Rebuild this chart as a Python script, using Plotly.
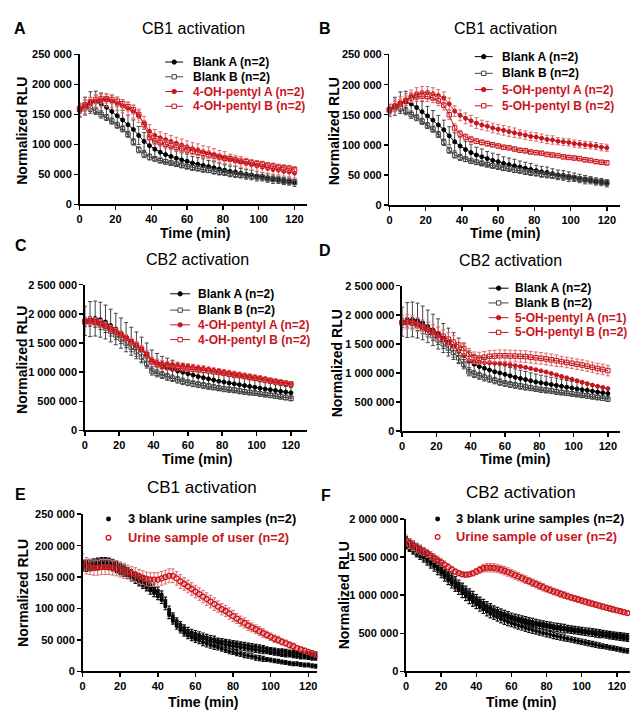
import plotly.graph_objects as go

W, H = 630, 717
RED = '#c8161d'
RED_ERR = '#e06a6a'
BLACK = '#000000'
GREY = '#444444'
FONT = 'Liberation Sans, Arial, sans-serif'

# ---------------- DATA (values in thousands of RLU) ----------------
T_AD = list(range(0, 121, 3))     # minutes, panels A-D
T_E = list(range(0, 125, 2))      # minutes, panel E
T_F = list(range(0, 127, 2))      # minutes, panel F

x_ticks = [0, 20, 40, 60, 80, 100, 120]
x_ticktext = ['0', '20', '40', '60', '80', '100', '120']
cb1_ticks = [0, 50000, 100000, 150000, 200000, 250000]
cb1_ticktext = ['0', '50 000', '100 000', '150 000', '200 000', '250 000']
cb2_ticks = [0, 500000, 1000000, 1500000, 2000000, 2500000]
cb2_ticktext = ['0', '500 000', '1 000 000', '1 500 000', '2 000 000', '2 500 000']
cb2f_ticks = [0, 500000, 1000000, 1500000, 2000000]
cb2f_ticktext = ['0', '500 000', '1 000 000', '1 500 000', '2 000 000']

# CB1 blanks (panels A, B)
cb1_blankA = [157, 164, 170, 171, 168, 162, 155, 148, 141, 133, 125, 115, 105, 98, 92, 87, 83, 80, 77, 74,
              72, 69, 67, 65, 63, 61, 59, 57, 55, 54, 52, 50, 49, 47, 46, 44, 42, 41, 39, 38, 36]
cb1_blankA_err = [10, 15, 18, 18, 18, 17, 17, 16, 16, 16, 16, 15, 15, 15, 14, 14, 13, 13, 12, 12,
                  12, 11, 11, 11, 10, 10, 10, 9, 9, 9, 8, 8, 8, 8, 7, 7, 7, 6, 6, 6, 6]
cb1_blankB = [158, 162, 161, 156, 150, 145, 139, 132, 126, 117, 104, 91, 83, 79, 76, 73, 71, 69, 67, 65,
              63, 61, 60, 58, 57, 55, 54, 53, 51, 50, 49, 48, 47, 46, 45, 43, 42, 41, 39, 38, 37]
cb1_blankB_err = [6, 6, 6, 6, 6, 5, 5, 5, 5, 5, 5, 5, 5, 5, 4, 4, 4, 4, 4, 4,
                  4, 4, 4, 4, 4, 4, 4, 4, 4, 4, 4, 4, 4, 4, 4, 4, 4, 4, 4, 4, 4]
# Panel A
oh4_cb1_A = [157, 163, 168, 172, 174, 174, 172, 168, 164, 160, 155, 148, 136, 122, 115, 111, 108, 105, 102, 99,
             96, 93, 91, 88, 86, 83, 80, 78, 75, 73, 71, 68, 66, 64, 62, 60, 58, 57, 55, 54, 52]
oh4_cb1_A_err = [12, 12, 11, 11, 11, 11, 11, 11, 11, 11, 11, 11, 11, 11, 10, 10, 10, 10, 10, 10,
                 10, 10, 10, 10, 10, 10, 10, 10, 9, 9, 9, 9, 9, 9, 9, 9, 8, 8, 8, 8, 8]
oh4_cb1_B = [160, 166, 171, 175, 176, 176, 175, 172, 168, 163, 158, 150, 133, 112, 106, 103, 100, 98, 95, 93,
             91, 89, 87, 85, 83, 81, 79, 77, 76, 74, 72, 71, 69, 68, 67, 65, 64, 62, 61, 60, 58]
oh4_cb1_B_err = [8, 8, 7, 7, 7, 7, 7, 7, 7, 7, 7, 7, 7, 6, 6, 6, 6, 6, 6, 6,
                 6, 5, 5, 5, 5, 5, 5, 5, 5, 5, 5, 5, 5, 5, 5, 5, 5, 5, 5, 5, 5]
# Panel B
oh5_cb1_A = [158, 165, 170, 175, 181, 185, 187, 187, 185, 182, 178, 168, 156, 149, 144, 140, 136, 133, 131, 128,
             126, 124, 122, 120, 118, 116, 114, 113, 111, 109, 108, 106, 105, 104, 102, 101, 100, 99, 98, 96, 95]
oh5_cb1_A_err = [10, 10, 10, 10, 10, 10, 10, 10, 10, 10, 10, 10, 9, 9, 9, 9, 9, 8, 8, 8,
                 8, 8, 8, 8, 7, 7, 7, 7, 7, 7, 7, 6, 6, 6, 6, 6, 6, 6, 6, 6, 6]
oh5_cb1_B = [158, 164, 168, 173, 178, 180, 181, 180, 178, 173, 166, 150, 128, 118, 113, 109, 106, 104, 102, 100,
             98, 96, 95, 93, 91, 90, 88, 87, 86, 84, 83, 82, 80, 79, 78, 77, 75, 74, 72, 71, 70]
oh5_cb1_B_err = [8, 8, 8, 8, 8, 8, 8, 8, 8, 8, 8, 8, 7, 6, 5, 5, 4, 4, 4, 3,
                 3, 3, 3, 3, 3, 3, 3, 3, 3, 3, 3, 3, 3, 3, 3, 3, 3, 3, 3, 3, 3]

# CB2 blanks (panels C, D)
cb2_blankA = [1880, 1910, 1920, 1900, 1860, 1800, 1740, 1670, 1600, 1530, 1460, 1380, 1300, 1200, 1150, 1110,
              1080, 1050, 1020, 1000, 975, 950, 925, 905, 885, 865, 845, 830, 815, 800, 785, 770, 755, 740,
              725, 710, 700, 685, 670, 660, 645]
cb2_blankA_err = [250, 300, 300, 300, 290, 280, 270, 260, 250, 240, 230, 220, 200, 180, 170, 160, 160, 155,
                  150, 150, 150, 145, 145, 140, 140, 135, 135, 130, 130, 125, 125, 120, 115, 115, 110, 110,
                  105, 100, 100, 95, 90]
cb2_blankB = [1860, 1870, 1850, 1810, 1760, 1700, 1640, 1570, 1500, 1430, 1350, 1260, 1150, 1020, 980, 950,
              920, 895, 868, 842, 818, 800, 785, 770, 755, 740, 725, 710, 700, 690, 675, 662, 650, 640, 628,
              615, 603, 590, 578, 565, 550]
cb2_blankB_err = [80, 80, 80, 80, 80, 80, 80, 80, 80, 80, 80, 80, 80, 70, 60, 60, 60, 55, 55, 55,
                  50, 50, 50, 50, 50, 45, 45, 45, 45, 45, 45, 40, 40, 40, 40, 40, 40, 40, 40, 40, 40]
# Panel C
oh4_cb2_A = [1870, 1880, 1870, 1840, 1800, 1750, 1700, 1650, 1590, 1530, 1470, 1400, 1320, 1210, 1170, 1150,
             1140, 1130, 1120, 1110, 1100, 1090, 1075, 1065, 1050, 1035, 1020, 1005, 990, 975, 960, 945, 930,
             915, 900, 885, 865, 850, 835, 815, 800]
oh4_cb2_A_err = [60, 60, 60, 60, 60, 55, 55, 55, 55, 55, 55, 55, 55, 50, 50, 50, 45, 45, 45, 45,
                 45, 45, 45, 45, 40, 40, 40, 40, 40, 40, 40, 40, 40, 40, 40, 35, 35, 35, 35, 35, 35]
oh4_cb2_B = [1870, 1880, 1860, 1830, 1790, 1740, 1690, 1640, 1580, 1520, 1460, 1390, 1300, 1180, 1130, 1100,
             1080, 1070, 1065, 1060, 1055, 1050, 1040, 1030, 1020, 1005, 995, 980, 965, 950, 940, 925, 910,
             895, 880, 865, 850, 835, 820, 810, 795]
oh4_cb2_B_err = [55, 55, 55, 55, 55, 50, 50, 50, 50, 50, 50, 50, 50, 45, 45, 45, 40, 40, 40, 40,
                 40, 40, 40, 40, 35, 35, 35, 35, 35, 35, 35, 35, 35, 35, 35, 30, 30, 30, 30, 30, 30]
# Panel D
oh5_cb2_A = [1870, 1880, 1870, 1840, 1790, 1740, 1690, 1630, 1570, 1510, 1450, 1380, 1300, 1210, 1190, 1180,
             1175, 1170, 1165, 1160, 1150, 1140, 1125, 1110, 1095, 1075, 1055, 1035, 1015, 990, 965, 940, 915,
             890, 865, 840, 815, 790, 770, 750, 730]
oh5_cb2_B = [1870, 1880, 1860, 1830, 1790, 1750, 1710, 1670, 1630, 1580, 1530, 1480, 1420, 1320, 1260, 1255,
             1270, 1285, 1290, 1295, 1295, 1290, 1290, 1285, 1280, 1270, 1260, 1250, 1240, 1225, 1210, 1195,
             1180, 1165, 1150, 1135, 1115, 1095, 1075, 1060, 1040]
oh5_cb2_B_err = [120, 120, 120, 120, 120, 120, 120, 120, 110, 110, 110, 110, 100, 100, 100, 100, 100, 100,
                 100, 100, 100, 100, 100, 100, 100, 100, 100, 100, 100, 100, 100, 90, 90, 90, 90, 90, 90, 90,
                 90, 90, 90]

# Panel E (CB1, urine)
user_cb1 = [173, 168, 166, 165, 165, 166, 166, 166, 165, 164, 162, 160, 158, 156, 154, 151, 149, 147, 146, 146,
            146, 148, 150, 152, 152, 148, 143, 139, 135, 131, 127, 123, 119, 115, 111, 107, 103, 99, 96, 92,
            88, 84, 80, 77, 73, 70, 67, 64, 61, 58, 55, 52, 50, 47, 45, 42, 40, 37, 35, 33, 31, 29, 27]
user_cb1_err = [14, 13, 12, 12, 12, 12, 12, 12, 12, 12, 12, 12, 11, 11, 11, 11, 11, 11, 11, 11,
                11, 11, 11, 11, 11, 11, 11, 10, 10, 10, 10, 10, 10, 10, 10, 10, 9, 9, 9, 9,
                9, 8, 8, 8, 8, 7, 7, 7, 7, 6, 6, 6, 6, 5, 5, 5, 5, 4, 4, 4, 4, 4, 4]
blank1_cb1 = [170, 170, 171, 172, 173, 174, 174, 173, 171, 168, 165, 162, 159, 156, 152, 149, 145, 141, 137, 133,
              128, 122, 112, 98, 88, 80, 74, 69, 65, 62, 60, 58, 56, 54, 52, 51, 49, 48, 47, 46,
              45, 44, 43, 42, 41, 40, 39, 38, 37, 36, 35, 34, 33, 33, 32, 31, 30, 30, 29, 28, 28, 27, 27]
blank2_cb1 = [168, 168, 169, 170, 171, 172, 172, 171, 169, 166, 163, 160, 157, 153, 149, 145, 141, 137, 133, 129,
              124, 118, 108, 94, 84, 76, 70, 65, 61, 58, 56, 54, 52, 50, 48, 47, 45, 44, 42, 41,
              40, 39, 38, 37, 36, 35, 34, 33, 32, 31, 30, 29, 28, 27, 26, 26, 25, 24, 23, 23, 22, 21, 21]
blank3_cb1 = [166, 166, 167, 168, 169, 170, 170, 169, 167, 164, 161, 158, 154, 150, 146, 142, 138, 134, 129, 125,
              120, 114, 104, 90, 80, 72, 66, 61, 57, 54, 51, 49, 46, 44, 42, 40, 38, 36, 34, 32,
              31, 29, 28, 26, 25, 24, 22, 21, 20, 19, 18, 17, 16, 15, 14, 13, 12, 12, 11, 10, 10, 9, 8]
blank_cb1_err = [7, 7, 7, 7, 7, 7, 7, 7, 7, 7, 7, 7, 6, 6, 6, 6, 6, 6, 6, 6,
                 6, 6, 6, 6, 5, 5, 5, 5, 5, 5, 5, 5, 5, 5, 5, 5, 4, 4, 4, 4,
                 4, 4, 4, 4, 4, 4, 4, 4, 4, 3, 3, 3, 3, 3, 3, 3, 3, 3, 3, 3, 3, 3, 3]

# Panel F (CB2, urine)
user_cb2 = [1720, 1680, 1650, 1625, 1600, 1575, 1550, 1520, 1490, 1460, 1430, 1400, 1370, 1340, 1310, 1290,
            1275, 1270, 1275, 1290, 1310, 1335, 1355, 1362, 1362, 1358, 1350, 1338, 1322, 1305, 1285, 1265,
            1245, 1225, 1205, 1185, 1165, 1145, 1125, 1105, 1085, 1068, 1050, 1035, 1018, 1002, 988, 972,
            958, 944, 930, 916, 902, 889, 876, 863, 850, 838, 826, 814, 802, 790, 778, 766]
user_cb2_err = [70, 65, 60, 60, 60, 55, 55, 55, 55, 55, 50, 50, 45, 40, 35, 30, 30, 30, 30, 35,
                40, 45, 50, 55, 55, 55, 55, 55, 55, 55, 55, 55, 55, 50, 50, 50, 50, 50, 50, 50,
                45, 45, 45, 45, 45, 45, 40, 40, 40, 40, 40, 40, 40, 35, 35, 35, 35, 35, 35, 35, 30, 30, 30, 30]
blank1_cb2 = [1700, 1670, 1640, 1610, 1580, 1550, 1515, 1480, 1440, 1400, 1360, 1315, 1270, 1225, 1180, 1140,
              1100, 1060, 1025, 990, 955, 920, 890, 860, 835, 810, 790, 770, 752, 736, 722, 708, 696, 684,
              673, 662, 652, 642, 633, 624, 615, 607, 599, 591, 584, 577, 570, 563, 557, 550, 544, 538, 532,
              526, 520, 514, 508, 502, 496, 490, 484, 478, 472, 466]
blank2_cb2 = [1690, 1655, 1625, 1595, 1565, 1530, 1495, 1455, 1415, 1375, 1330, 1285, 1240, 1195, 1150, 1110,
              1070, 1030, 995, 960, 925, 890, 860, 830, 805, 780, 760, 740, 722, 706, 692, 678, 666, 654,
              643, 632, 622, 612, 603, 594, 585, 577, 569, 561, 554, 547, 540, 533, 527, 520, 514, 507, 500,
              493, 486, 479, 472, 465, 458, 451, 444, 437, 430, 424]
blank3_cb2 = [1680, 1645, 1610, 1575, 1540, 1505, 1465, 1425, 1385, 1340, 1295, 1250, 1205, 1160, 1115, 1070,
              1030, 990, 950, 915, 880, 845, 815, 785, 758, 732, 710, 688, 668, 650, 632, 616, 600, 585,
              570, 556, 543, 530, 517, 505, 493, 482, 471, 460, 450, 440, 430, 420, 410, 400, 390, 380, 370,
              360, 350, 340, 331, 322, 313, 304, 295, 286, 277, 268]
blank_cb2_err = [70, 70, 70, 70, 70, 70, 70, 70, 70, 70, 65, 65, 65, 65, 65, 60, 60, 60, 60, 60,
                 55, 55, 55, 55, 55, 50, 50, 50, 50, 50, 45, 45, 45, 45, 45, 45, 45, 40, 40, 40,
                 40, 40, 40, 40, 40, 40, 35, 35, 35, 35, 35, 35, 35, 35, 35, 35, 30, 30, 30, 30, 30, 30, 30, 30]


def k(vals):
    return [v * 1000 for v in vals]


fig = go.Figure()

# panel geometry in pixels: x0, x1 (plot left/right), y_top, y_bottom, xmax, ymax, ticks
panels = [
    dict(x0=77, x1=305, yt=49.3, yb=201.7, xmax=126.7, ymax=250000, tv=cb1_ticks, tt=cb1_ticktext),
    dict(x0=388.3, x1=620, yt=49.3, yb=202.3, xmax=127.3, ymax=250000, tv=cb1_ticks, tt=cb1_ticktext),
    dict(x0=82.3, x1=305, yt=283.3, yb=431.7, xmax=129.1, ymax=2500000, tv=cb2_ticks, tt=cb2_ticktext),
    dict(x0=401, x1=620, yt=284.3, yb=432.3, xmax=127.1, ymax=2500000, tv=cb2_ticks, tt=cb2_ticktext),
    dict(x0=80, x1=316, yt=516.7, yb=676.7, xmax=124.9, ymax=250000, tv=cb1_ticks, tt=cb1_ticktext),
    dict(x0=405, x1=630, yt=521.7, yb=676.7, xmax=127.5, ymax=2000000, tv=cb2f_ticks, tt=cb2f_ticktext),
]

layout_axes = {}
for i, p in enumerate(panels):
    s = '' if i == 0 else str(i + 1)
    layout_axes['xaxis' + s] = dict(
        domain=[p['x0'] / W, p['x1'] / W], range=[0, p['xmax']], anchor='y' + s,
        tickvals=x_ticks, ticktext=x_ticktext, showline=True, linecolor='black', linewidth=1.6,
        ticks='outside', ticklen=4, tickwidth=1.5, tickcolor='black', showgrid=False, zeroline=False,
        tickfont=dict(family=FONT, size=11, color='black', weight='bold'), fixedrange=True)
    layout_axes['yaxis' + s] = dict(
        domain=[1 - p['yb'] / H, 1 - p['yt'] / H], range=[0, p['ymax'] * 1.001], anchor='x' + s,
        tickvals=p['tv'], ticktext=p['tt'], showline=True, linecolor='black', linewidth=1.6,
        ticks='outside', ticklen=4, tickwidth=1.5, tickcolor='black', showgrid=False, zeroline=False,
        tickfont=dict(family=FONT, size=11, color='black', weight='bold'), fixedrange=True)


def add_series(ax, t, y, err, color, ecolor, symbol, size, line_color=None):
    s = '' if ax == 1 else str(ax)
    ed = dict(type='data', array=k(err), color=ecolor, thickness=1, width=2) if err is not None else dict(visible=False)
    fig.add_trace(go.Scatter(
        x=t, y=k(y), xaxis='x' + s, yaxis='y' + s, mode='lines+markers',
        line=dict(color=line_color or color, width=1),
        marker=dict(symbol=symbol, size=size, color=color, line=dict(color=color, width=1)),
        error_y=ed, cliponaxis=False, showlegend=False, hoverinfo='x+y'))


def add_dots(ax, t, y, err, color, ecolor, symbol, size, lw=0, ew=1.0):
    s = '' if ax == 1 else str(ax)
    fig.add_trace(go.Scatter(
        x=t, y=k(y), xaxis='x' + s, yaxis='y' + s, mode='markers',
        marker=dict(symbol=symbol, size=size, color=color, line=dict(color=color, width=lw)),
        error_y=dict(type='data', array=k(err), color=ecolor, thickness=ew, width=1.8),
        cliponaxis=True, showlegend=False, hoverinfo='x+y'))


# Panel A
add_series(1, T_AD, cb1_blankA, cb1_blankA_err, BLACK, GREY, 'circle', 4)
add_series(1, T_AD, cb1_blankB, cb1_blankB_err, GREY, GREY, 'square-open', 4.5)
add_series(1, T_AD, oh4_cb1_A, oh4_cb1_A_err, RED, RED_ERR, 'circle', 4)
add_series(1, T_AD, oh4_cb1_B, oh4_cb1_B_err, RED, RED_ERR, 'square-open', 4.5)
# Panel B
add_series(2, T_AD, cb1_blankA, cb1_blankA_err, BLACK, GREY, 'circle', 4)
add_series(2, T_AD, cb1_blankB, cb1_blankB_err, GREY, GREY, 'square-open', 4.5)
add_series(2, T_AD, oh5_cb1_A, oh5_cb1_A_err, RED, RED_ERR, 'circle', 4)
add_series(2, T_AD, oh5_cb1_B, oh5_cb1_B_err, RED, RED_ERR, 'square-open', 4.5)
# Panel C
add_series(3, T_AD, cb2_blankA, cb2_blankA_err, BLACK, GREY, 'circle', 4)
add_series(3, T_AD, cb2_blankB, cb2_blankB_err, GREY, GREY, 'square-open', 4.5)
add_series(3, T_AD, oh4_cb2_A, oh4_cb2_A_err, RED, RED_ERR, 'circle', 4)
add_series(3, T_AD, oh4_cb2_B, oh4_cb2_B_err, RED, RED_ERR, 'square-open', 4.5)
# Panel D
add_series(4, T_AD, cb2_blankA, cb2_blankA_err, BLACK, GREY, 'circle', 4)
add_series(4, T_AD, cb2_blankB, cb2_blankB_err, GREY, GREY, 'square-open', 4.5)
add_series(4, T_AD, oh5_cb2_A, None, RED, RED_ERR, 'circle', 4)
add_series(4, T_AD, oh5_cb2_B, oh5_cb2_B_err, RED, RED_ERR, 'square-open', 4.5)
# Panel E
for b in (blank1_cb1, blank2_cb1, blank3_cb1):
    add_dots(5, T_E, b, blank_cb1_err, BLACK, '#111111', 'circle', 4, ew=1.2)
add_dots(5, T_E, user_cb1, user_cb1_err, RED, RED_ERR, 'circle-open', 5, lw=1.3)
# Panel F
for b in (blank1_cb2, blank2_cb2, blank3_cb2):
    add_dots(6, T_F, b, blank_cb2_err, BLACK, '#111111', 'circle', 4, ew=1.2)
add_dots(6, T_F, user_cb2, user_cb2_err, RED, RED_ERR, 'circle-open', 5, lw=1.3)


# ---------------- text / legends ----------------
def px(x):
    return x / W


def py(y):
    return 1 - y / H


annotations = []
shapes = []


def text(x, y, s, size, color='black', bold=True, anchor='center', angle=0):
    annotations.append(dict(
        x=px(x), y=py(y), xref='paper', yref='paper', text=s, showarrow=False,
        xanchor=anchor, yanchor='middle', textangle=angle, borderpad=0,
        font=dict(family=FONT, size=size, color=color, weight='bold' if bold else 'normal')))


titles = [(191.5, 23, 'CB1 activation'), (505, 23, 'CB1 activation'), (195, 258, 'CB2 activation'),
          (510, 259, 'CB2 activation'), (200, 490, 'CB1 activation'), (520, 495, 'CB2 activation')]
for i, (x, y, s) in enumerate(titles):
    text(x, y, s, 16 if i < 4 else 17, bold=False)

letters = [(17, 23, 'A'), (324, 23, 'B'), (18, 244, 'C'), (324, 249, 'D'), (18, 497, 'E'), (325, 498, 'F')]
for x, y, s in letters:
    text(x, y, s, 16)

for x, y in [(19, 127), (332, 127), (19, 360), (336, 363), (20, 597), (343, 599)]:
    text(x, y, 'Normalized RLU', 14, angle=-90)
for x, y in [(193, 231), (505, 231), (195, 461), (515, 461), (201, 708), (521, 708)]:
    text(x, y, 'Time (min)', 14)


def leg_line(x0, x1, y, color, symbol, tcolor, label, xt, size=12):
    shapes.append(dict(type='line', xref='paper', yref='paper', x0=px(x0), x1=px(x1), y0=py(y), y1=py(y),
                       line=dict(color=color, width=1)))
    xc = (x0 + x1) / 2
    r = 2.2
    if symbol == 'circle':
        shapes.append(dict(type='circle', xref='paper', yref='paper', x0=px(xc - r), x1=px(xc + r),
                           y0=py(y + r), y1=py(y - r), fillcolor=color, line=dict(color=color, width=1)))
    else:
        shapes.append(dict(type='rect', xref='paper', yref='paper', x0=px(xc - r), x1=px(xc + r),
                           y0=py(y + r), y1=py(y - r), fillcolor='white', line=dict(color=color, width=1)))
    text(xt, y, label, size, color=tcolor, anchor='left')


def leg_dot(xc, y, color, filled, label, xt, size=12.8):
    r = 1.8 if filled else 2.4
    shapes.append(dict(type='circle', xref='paper', yref='paper', x0=px(xc - r), x1=px(xc + r),
                       y0=py(y + r), y1=py(y - r), fillcolor=color if filled else 'white',
                       line=dict(color=color, width=1.3)))
    text(xt, y, label, size, color=color, anchor='left')


legA = ['Blank A (n=2)', 'Blank B (n=2)', '4-OH-pentyl A (n=2)', '4-OH-pentyl B (n=2)']
legB = ['Blank A (n=2)', 'Blank B (n=2)', '5-OH-pentyl A (n=2)', '5-OH-pentyl B (n=2)']
legC = ['Blank A (n=2)', 'Blank B (n=2)', '4-OH-pentyl A (n=2)', '4-OH-pentyl B (n=2)']
legD = ['Blank A (n=2)', 'Blank B (n=2)', '5-OH-pentyl A (n=1)', '5-OH-pentyl B (n=2)']
styles = [(BLACK, 'circle', 'black'), (GREY, 'square', 'black'), (RED, 'circle', RED), (RED, 'square', RED)]

for labels, ys, (lx0, lx1, xt) in [
    (legA, [57, 72, 87, 102], (163, 181, 190)),
    (legB, [51.5, 68.5, 85, 101.5], (474, 492, 500)),
    (legC, [292.7, 309.3, 324.3, 339.3], (168, 188, 195)),
    (legD, [287, 302, 317, 332], (488, 508, 513)),
]:
    for lab, y, (c, sym, tc) in zip(labels, ys, styles):
        leg_line(lx0, lx1, y, c, sym, tc, lab, xt)

leg_dot(106, 521.7, BLACK, True, '3 blank urine samples (n=2)', 125)
annotations[-1]['font']['color'] = 'black'
leg_dot(106, 540.7, RED, False, 'Urine sample of user (n=2)', 125)
leg_dot(436.7, 521.7, BLACK, True, '3 blank urine samples (n=2)', 454)
annotations[-1]['font']['color'] = 'black'
leg_dot(436.7, 540, RED, False, 'Urine sample of user (n=2)', 454)

fig.update_layout(
    width=W, height=H, margin=dict(l=0, r=0, t=0, b=0), autosize=False,
    paper_bgcolor='white', plot_bgcolor='white', showlegend=False,
    annotations=annotations, shapes=shapes, **layout_axes)

fig.write_html('out.html', config={'displayModeBar': False, 'staticPlot': True},
               post_script="document.body.style.margin='0';document.body.style.padding='0';"
                           "document.body.style.overflow='hidden';")
